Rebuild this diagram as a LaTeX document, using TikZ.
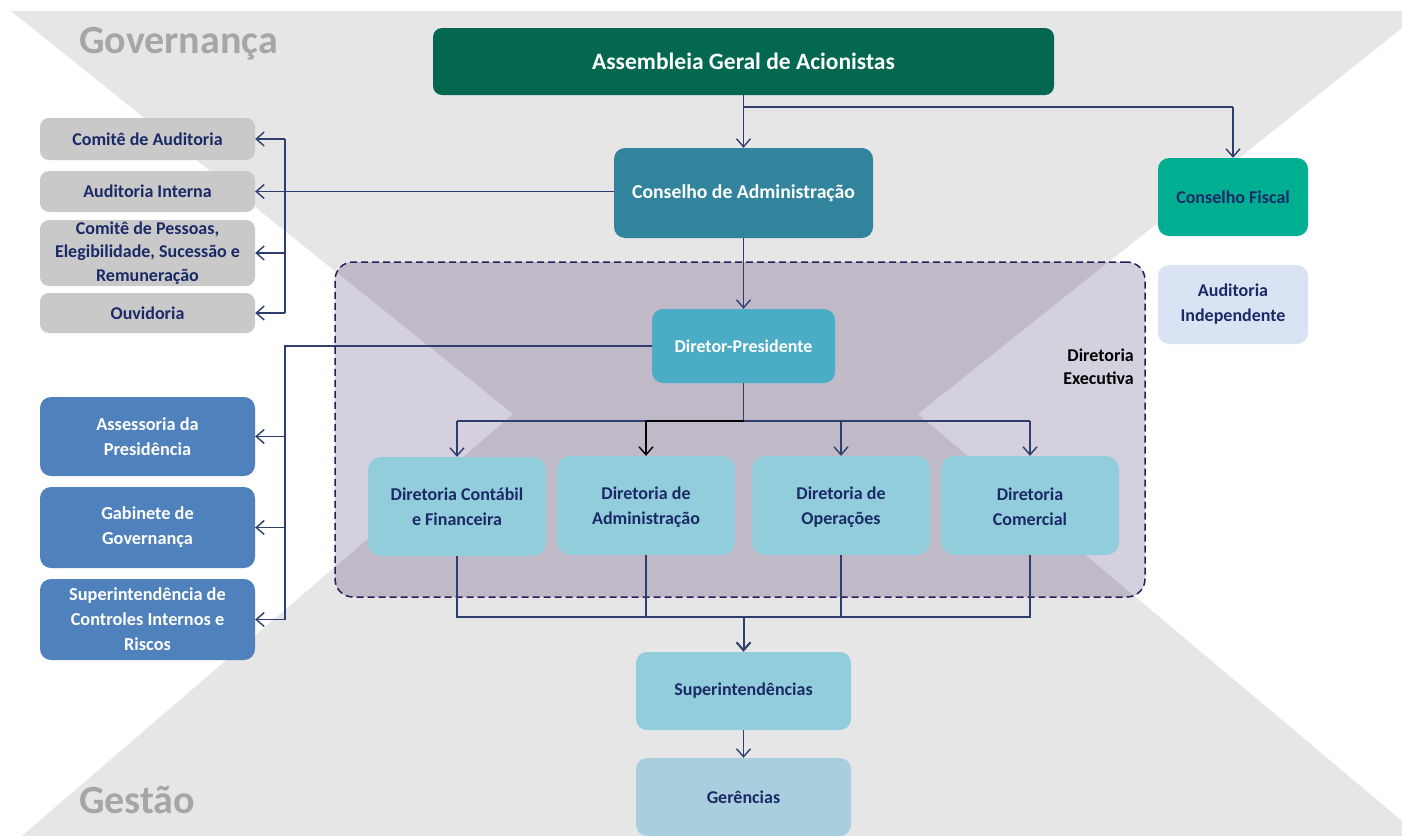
\documentclass[tikz,border=0pt]{standalone}
\usepackage{fontspec}
\setmainfont{Carlito}
\usetikzlibrary{arrows.meta}
\definecolor{bggray}{HTML}{E6E6E6}
\definecolor{labgray}{HTML}{A6A6A6}
\definecolor{navy}{HTML}{1B2A66}
\definecolor{linec}{HTML}{2E3F6E}
\definecolor{asmc}{HTML}{03684F}
\definecolor{cadc}{HTML}{31849B}
\definecolor{cfc}{HTML}{00AE91}
\definecolor{aic}{HTML}{DAE3F3}
\definecolor{grayb}{HTML}{C9C9C9}
\definecolor{blueb}{HTML}{4F81BD}
\definecolor{dpc}{HTML}{4BACC6}
\definecolor{dirc}{HTML}{92CDDC}
\definecolor{gerc}{HTML}{A9CEDE}
\definecolor{exdark}{HTML}{C0BAC8}
\definecolor{exlight}{HTML}{D4D0DE}
\definecolor{exborder}{HTML}{2B1B5C}
\tikzset{
  box/.style={rounded corners=9pt, align=center, inner sep=0pt, font=\bfseries\fontsize{18}{25}\selectfont},
  graybox/.style={box, fill=grayb, text=navy, minimum width=215pt, font=\bfseries\fontsize{18}{23.5}\selectfont},
  bluebox/.style={box, fill=blueb, text=white, minimum width=215pt, rounded corners=11pt, font=\bfseries\fontsize{18.3}{25}\selectfont},
  dirbox/.style={box, fill=dirc, text=navy, minimum width=178pt, minimum height=99pt, rounded corners=13pt},
  conn/.style={draw=linec, line width=1.4pt},
  arr/.style={conn, -{Straight Barb[length=8pt,width=14pt]}},
  biglab/.style={text=labgray, font=\bfseries\fontsize{40}{42}\selectfont, anchor=west, inner sep=0pt}
}
\begin{document}
\begin{tikzpicture}[x=1pt,y=-1pt]
\clip (0,0) rectangle (1402,835);
\fill[white] (0,0) rectangle (1402,835);
% hourglass background
\fill[bggray] (11,11) -- (1402,11) -- (1402,28) -- (918,414) -- (1402,821) -- (1402,840) -- (17,840) -- (513,414) -- cycle;

% Diretoria Executiva container
\fill[exdark, rounded corners=18pt] (335,262) rectangle (1145,597);
\begin{scope}
  \clip[rounded corners=18pt] (335,262) rectangle (1145,597);
  \fill[exlight] (0,0) -- (11,11) -- (513,414) -- (17,840) -- (0,840) -- cycle;
  \fill[exlight] (1402,28) -- (918,414) -- (1402,821) -- cycle;
\end{scope}
\node[draw=exborder, line width=1.5pt, dash pattern=on 7pt off 4pt, rounded corners=18pt,
      minimum width=810pt, minimum height=335pt, inner sep=0pt] (exec) at (740,429.5) {};
\node[anchor=east, align=right, inner sep=0pt, text=black, font=\bfseries\fontsize{18}{23}\selectfont] (exlbl) at (1134,367) {Diretoria\\Executiva};

% big labels
\node[biglab] (gov) at (79,44) {Governança};
\node[biglab] (ges) at (79,800) {Gestão};

% top
\node[box, fill=asmc, text=white, minimum width=621pt, minimum height=67pt, font=\bfseries\fontsize{23.5}{26}\selectfont] (asm) at (743.5,61.5) {Assembleia Geral de Acionistas};
\node[box, fill=cadc, text=white, minimum width=259pt, minimum height=90pt, rounded corners=11pt, font=\bfseries\fontsize{19.7}{24}\selectfont] (cad) at (743.5,193) {Conselho de Administração};
\node[box, fill=cfc, text=navy, minimum width=150pt, minimum height=78pt, rounded corners=11pt] (cf) at (1233,197) {Conselho Fiscal};
\node[box, fill=aic, text=navy, minimum width=150pt, minimum height=79pt, rounded corners=11pt] (ai) at (1233,304.5) {Auditoria\\Independente};

% gray boxes
\node[graybox, minimum height=42pt] (g1) at (147.5,139) {Comitê de Auditoria};
\node[graybox, minimum height=41pt] (g2) at (147.5,191.5) {Auditoria Interna};
\node[graybox, minimum height=66pt] (g3) at (147.5,253) {Comitê de Pessoas,\\Elegibilidade, Sucessão e\\Remuneração};
\node[graybox, minimum height=40pt] (g4) at (147.5,313) {Ouvidoria};

% blue boxes
\node[bluebox, minimum height=79pt] (b1) at (147.5,436.5) {Assessoria da\\Presidência};
\node[bluebox, minimum height=81pt] (b2) at (147.5,527.5) {Gabinete de\\Governança};
\node[bluebox, minimum height=81pt] (b3) at (147.5,619.5) {Superintendência de\\Controles Internos e\\Riscos};

% executive
\node[box, fill=dpc, text=white, minimum width=183pt, minimum height=74pt, rounded corners=11pt] (dp) at (743.5,346) {Diretor-Presidente};
\node[dirbox] (d1) at (457,506.5) {Diretoria Contábil\\e Financeira};
\node[dirbox] (d2) at (646,505.5) {\vphantom{Á}Diretoria de\\Administração};
\node[dirbox] (d3) at (841,505.5) {\vphantom{Á}Diretoria de\\Operações};
\node[dirbox] (d4) at (1030,505.5) {\vphantom{Á}Diretoria\\Comercial};

% bottom
\node[box, fill=dirc, text=navy, minimum width=215pt, minimum height=78pt, rounded corners=11pt] (sup) at (743.5,691) {Superintendências};
\node[box, fill=gerc, text=navy, minimum width=215pt, minimum height=78pt, rounded corners=11pt] (ger) at (743.5,797) {Gerências};

% coordinates
\coordinate (asmJ) at (743.5,107);
\coordinate (bx) at (285,0);
\coordinate (busT) at (0,421);
\coordinate (busB) at (0,617);

% connectors: top
\draw[arr] (asm.south) -- (cad.north);
\draw[conn] (asmJ) -- (cf.north |- asmJ);
\draw[arr] (cf.north |- asmJ) -- (cf.north);
\draw[arr] (cad.west |- g2.east) -- (g2.east);
\draw[conn] (g1.east -| bx) -- (g4.east -| bx);
\draw[arr] (g1.east -| bx) -- (g1.east);
\draw[arr] (g3.east -| bx) -- (g3.east);
\draw[arr] (g4.east -| bx) -- (g4.east);
\draw[arr] (cad.south) -- (dp.north);

% Diretor-Presidente to staff
\draw[conn] (dp.west) -- (dp.west -| bx) -- (b3.east -| bx);
\draw[arr] (b1.east -| bx) -- (b1.east);
\draw[arr] (b2.east -| bx) -- (b2.east);
\draw[arr] (b3.east -| bx) -- (b3.east);

% Diretor-Presidente to diretorias
\draw[conn] (dp.south) -- (dp.south |- busT);
\draw[conn] (d1.north |- busT) -- (d4.north |- busT);
\draw[arr] (d1.north |- busT) -- (d1.north);
\draw[arr, draw=black] (d2.north |- busT) -- (d2.north);
\draw[draw=black, line width=1.4pt] (d2.north |- busT) -- (dp.south |- busT);
\draw[arr] (d3.north |- busT) -- (d3.north);
\draw[arr] (d4.north |- busT) -- (d4.north);

% diretorias to superintendencias
\draw[conn] (d1.south) -- (d1.south |- busB) -- (d4.south |- busB) -- (d4.south);
\draw[conn] (d2.south) -- (d2.south |- busB);
\draw[conn] (d3.south) -- (d3.south |- busB);
\draw[arr, line width=2pt] (sup.north |- busB) -- (sup.north);
\draw[arr] (sup.south) -- (ger.north);
\end{tikzpicture}
\end{document}
